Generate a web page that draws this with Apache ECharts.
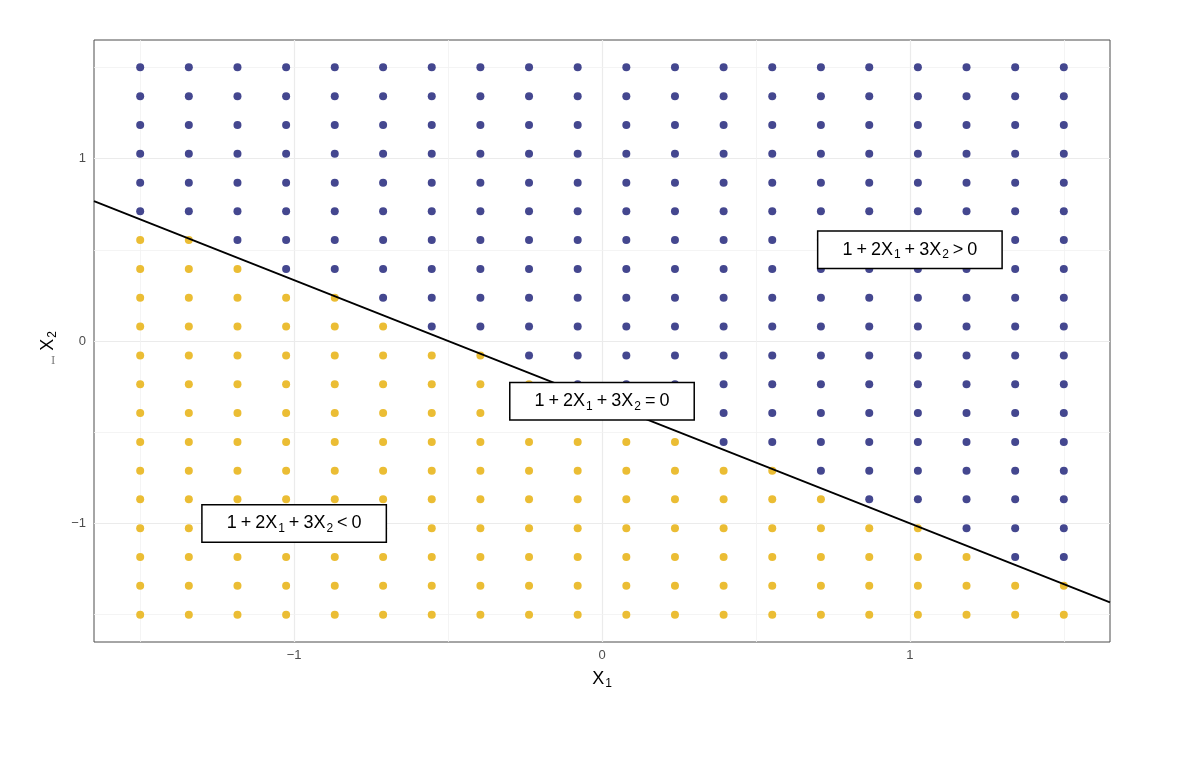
<!DOCTYPE html>
<html>
<head>
<meta charset="utf-8">
<script src="https://cdn.jsdelivr.net/npm/echarts@6/dist/echarts.min.js"></script>
<style>
  html, body { margin: 0; padding: 0; background: #ffffff; }
  #chart { width: 1178px; height: 759px; }
</style>
</head>
<body>
<div id="chart"></div>
<script>
// Grid values of X1 and X2 (20 evenly spaced points from -1.5 to 1.5)
const xVals = [-1.5, -1.342, -1.184, -1.026, -0.868, -0.711, -0.553, -0.395, -0.237, -0.079,
               0.079, 0.237, 0.395, 0.553, 0.711, 0.868, 1.026, 1.184, 1.342, 1.5];
const yVals = [-1.5, -1.342, -1.184, -1.026, -0.868, -0.711, -0.553, -0.395, -0.237, -0.079,
               0.079, 0.237, 0.395, 0.553, 0.711, 0.868, 1.026, 1.184, 1.342, 1.5];
// Number of gold (negative) points in each column, counted from the bottom
const goldCount = [14, 14, 13, 12, 12, 11, 10, 10, 9, 8, 8, 7, 6, 6, 5, 4, 4, 3, 2, 2];
// Boundary line 1 + 2X1 + 3X2 = 0 across the panel
const lineX = [-1.65, 1.65];
const lineY = [0.767, -1.433];
// Annotation boxes
const annotX = [1.0, 0.0, -1.0];
const annotY = [0.5, -0.33, -1.0];
const annotOp = ['>', '=', '<'];
// Tick labels
const tickVals = [-1, 0, 1];
const minorGrid = [-1.5, -0.5, 0.5, 1.5];

const navy = '#44478F';
const gold = '#EBBD34';

const posPts = [], negPts = [];
xVals.forEach((x, i) => {
  yVals.forEach((y, j) => {
    if (j < goldCount[i]) negPts.push([x, y]); else posPts.push([x, y]);
  });
});

const FONT = '"Liberation Sans", Arial, Helvetica, sans-serif';
const rich = {
  n: { fontSize: 18, lineHeight: 24, color: '#000', fontFamily: FONT },
  o: { fontSize: 18, lineHeight: 24, color: '#000', fontFamily: FONT, padding: [0, 4] },
  s: { fontSize: 12, lineHeight: 14, color: '#000', fontFamily: FONT, padding: [10, 0, 0, 1] }
};

const gridLines = [];
tickVals.forEach(v => {
  gridLines.push({ xAxis: v, lineStyle: { color: '#EBEBEB', width: 1.2, type: 'solid' } });
  gridLines.push({ yAxis: v, lineStyle: { color: '#EBEBEB', width: 1.2, type: 'solid' } });
});
minorGrid.forEach(v => {
  gridLines.push({ xAxis: v, lineStyle: { color: '#F1F1F1', width: 0.8, type: 'solid' } });
  gridLines.push({ yAxis: v, lineStyle: { color: '#F1F1F1', width: 0.8, type: 'solid' } });
});

const fmt = v => (v < 0 ? '\u2212' + Math.abs(v) : String(v));

const chart = echarts.init(document.getElementById('chart'), null, { renderer: 'canvas' });
chart.setOption({
  animation: false,
  backgroundColor: '#ffffff',
  grid: {
    left: 94, right: 68, top: 40, bottom: 117,
    show: true, borderColor: '#4D4D4D', borderWidth: 1, backgroundColor: '#ffffff'
  },
  xAxis: {
    type: 'value', min: -1.65, max: 1.65,
    axisLine: { show: false },
    splitLine: { show: false },
    axisTick: { show: true, customValues: tickVals, length: 4, lineStyle: { color: '#333', width: 1 } },
    axisLabel: { customValues: tickVals, formatter: fmt, color: '#4D4D4D', fontSize: 13, fontFamily: FONT, margin: 7 },
    name: '{n|X}{s|1}', nameLocation: 'middle', nameGap: 25,
    nameTextStyle: { rich: rich }
  },
  yAxis: {
    type: 'value', min: -1.65, max: 1.65,
    axisLine: { show: false },
    splitLine: { show: false },
    axisTick: { show: true, customValues: tickVals, length: 4, lineStyle: { color: '#333', width: 1 } },
    axisLabel: { customValues: tickVals, formatter: fmt, color: '#4D4D4D', fontSize: 13, fontFamily: FONT, margin: 8 },
    name: '{n|X}{s|2}', nameLocation: 'middle', nameGap: 34, nameRotate: 90,
    nameTextStyle: { rich: rich }
  },
  graphic: [{
    type: 'text', left: 51, top: 356, silent: true,
    style: { text: 'I', fill: '#777', font: '11px "DejaVu Serif", serif' }
  }],
  series: [
    {
      type: 'line', data: [], z: 1, silent: true,
      markLine: { z: 1, silent: true, symbol: 'none', label: { show: false }, data: gridLines, animation: false }
    },
    {
      name: 'positive', type: 'scatter', data: posPts, symbolSize: 8, z: 3, silent: true,
      itemStyle: { color: navy, opacity: 1 }
    },
    {
      name: 'negative', type: 'scatter', data: negPts, symbolSize: 8, z: 3, silent: true,
      itemStyle: { color: gold, opacity: 1 }
    },
    {
      name: 'boundary', type: 'line', data: lineX.map((x, i) => [x, lineY[i]]), z: 4, silent: true,
      showSymbol: false, symbol: 'none', lineStyle: { color: '#000', width: 1.8 }
    },
    {
      name: 'annotations', type: 'scatter', z: 10, silent: true,
      data: annotX.map((x, i) => ({ value: [x, annotY[i]], op: annotOp[i] })),
      symbolSize: 1, itemStyle: { color: 'rgba(0,0,0,0)', opacity: 1 },
      label: {
        show: true, position: 'inside', opacity: 1,
        formatter: p => '{n|1}{o|+}{n|2X}{s|1}{o|+}{n|3X}{s|2}{o|' + p.data.op + '}{n|0}',
        rich: rich,
        backgroundColor: '#ffffff', borderColor: '#000', borderWidth: 1.5,
        padding: [6, 24]
      },
      labelLayout: { hideOverlap: false }
    }
  ]
});
</script>
</body>
</html>
